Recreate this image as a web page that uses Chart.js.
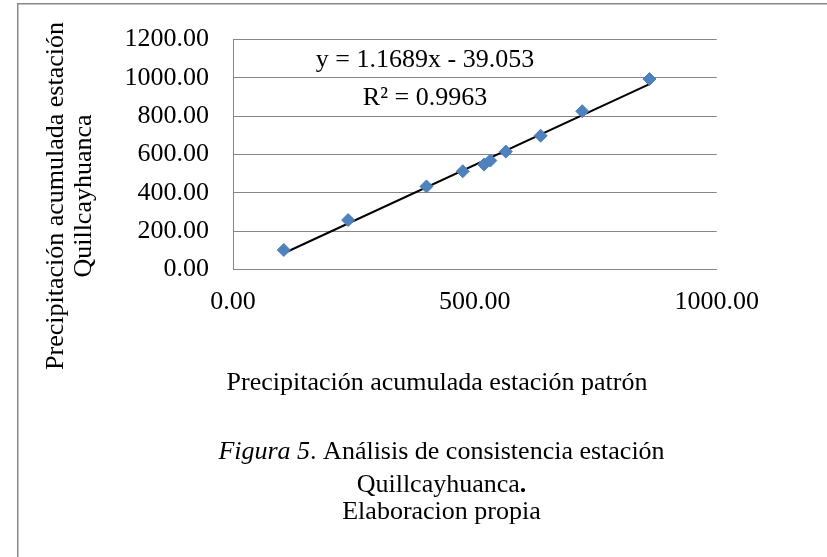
<!DOCTYPE html>
<html>
<head>
<meta charset="utf-8">
<script src="https://cdn.jsdelivr.net/npm/chart.js@4.4.1/dist/chart.umd.min.js"></script>
<style>
  html, body { margin: 0; padding: 0; background: #fff; }
  #wrap { position: relative; width: 827px; height: 557px; overflow: hidden; }
  canvas { position: absolute; left: 0; top: 0; }
</style>
</head>
<body>
<div id="wrap"><canvas id="c" width="827" height="557"></canvas></div>
<script>
// ---- data ----
const patronX = [105, 238, 400, 475, 519, 532, 564, 636, 722, 861];
const quillY  = [101, 257, 433, 512, 547, 568, 615, 698, 826, 994];
const yTicks = [0, 200, 400, 600, 800, 1000, 1200];
const xTicks = [0, 500, 1000];
const trendSlope = 1.1689;
const trendIntercept = -39.053;
const equationLines = ['y = 1.1689x - 39.053', 'R\u00B2 = 0.9963'];
const yTitleLines = ['Precipitación acumulada estación', 'Quillcayhuanca'];
const xTitle = 'Precipitación acumulada estación patrón';
const captionItalic = 'Figura 5';
const captionRest = '. Análisis de consistencia estación';
const captionLine2 = 'Quillcayhuanca';
const captionLine3 = 'Elaboracion propia';

const FONT = '"Liberation Serif", "Times New Roman", serif';

const points = patronX.map((x, i) => ({ x: x, y: quillY[i] }));
const xMin = Math.min(...patronX), xMax = Math.max(...patronX);
const trend = [xMin, xMax].map(x => ({ x: x, y: trendSlope * x + trendIntercept }));

const textPlugin = {
  id: 'texts',
  beforeDraw(chart) {
    const ctx = chart.ctx;
    ctx.save();
    ctx.strokeStyle = '#898989';
    ctx.lineWidth = 1.5;
    ctx.beginPath();
    ctx.moveTo(17.75, 557);
    ctx.lineTo(17.75, 3.75);
    ctx.lineTo(827, 3.75);
    ctx.stroke();
    ctx.restore();
  },
  afterDraw(chart) {
    const ctx = chart.ctx;
    ctx.save();
    ctx.fillStyle = '#000';
    ctx.font = '26px ' + FONT;
    ctx.textBaseline = 'alphabetic';
    ctx.textAlign = 'center';
    // equation
    ctx.fillText(equationLines[0], 425, 67);
    ctx.fillText(equationLines[1], 425, 105);
    // x title
    ctx.fillText(xTitle, 437, 390);
    // y title (rotated)
    const yc = 196;
    ctx.save();
    ctx.translate(63, yc);
    ctx.rotate(-Math.PI / 2);
    ctx.fillText(yTitleLines[0], 0, 0);
    ctx.restore();
    ctx.save();
    ctx.translate(91, yc);
    ctx.rotate(-Math.PI / 2);
    ctx.fillText(yTitleLines[1], 0, 0);
    ctx.restore();
    // caption line 1 (mixed italic)
    ctx.textAlign = 'left';
    const italFont = 'italic 26px ' + FONT;
    const regFont = '26px ' + FONT;
    ctx.font = italFont;
    const w1 = ctx.measureText(captionItalic).width;
    ctx.font = regFont;
    const w2 = ctx.measureText(captionRest).width;
    let sx = 441.5 - (w1 + w2) / 2;
    ctx.font = italFont;
    ctx.fillText(captionItalic, sx, 459);
    ctx.font = regFont;
    ctx.fillText(captionRest, sx + w1, 459);
    // caption line 2 with bold period
    const w3 = ctx.measureText(captionLine2).width;
    ctx.font = 'bold 26px ' + FONT;
    const w4 = ctx.measureText('.').width;
    sx = 441.5 - (w3 + w4) / 2;
    ctx.font = regFont;
    ctx.fillText(captionLine2, sx, 491.5);
    ctx.font = 'bold 26px ' + FONT;
    ctx.fillText('.', sx + w3, 491.5);
    // caption line 3
    ctx.font = regFont;
    ctx.textAlign = 'center';
    ctx.fillText(captionLine3, 441.5, 519);
    ctx.restore();
  }
};

new Chart(document.getElementById('c'), {
  type: 'scatter',
  data: {
    datasets: [
      {
        type: 'line',
        label: 'Tendencia',
        data: trend,
        borderColor: '#000000',
        borderWidth: 2,
        pointRadius: 0,
        fill: false,
        order: 2
      },
      {
        label: 'Datos',
        data: points,
        pointStyle: 'rectRot',
        pointRadius: 6.5,
        backgroundColor: '#4F81BD',
        borderColor: '#4A7EBB',
        borderWidth: 1,
        order: 1
      }
    ]
  },
  options: {
    responsive: false,
    animation: false,
    devicePixelRatio: 1,
    layout: { padding: { left: 0, top: 31.7, right: 110.3, bottom: 227.7 } },
    plugins: {
      legend: { display: false },
      tooltip: { enabled: false },
      title: { display: false }
    },
    scales: {
      x: {
        type: 'linear',
        min: 0,
        max: 1000,
        afterBuildTicks: s => { s.ticks = xTicks.map(v => ({ value: v })); },
        afterFit: s => { s.height = 60; },
        grid: { display: false, drawTicks: false },
        border: { display: true, color: '#868686', width: 1 },
        ticks: {
          padding: 17,
          color: '#000',
          font: { family: FONT, size: 26 },
          maxRotation: 0,
          callback: v => Number(v).toFixed(2)
        }
      },
      y: {
        type: 'linear',
        min: 0,
        max: 1200,
        afterBuildTicks: s => { s.ticks = yTicks.map(v => ({ value: v })); },
        afterFit: s => { s.width = 233; },
        grid: { display: true, color: '#868686', lineWidth: 1, drawTicks: false },
        border: { display: true, color: '#868686', width: 1 },
        ticks: {
          padding: 24,
          color: '#000',
          font: { family: FONT, size: 26 },
          callback: v => Number(v).toFixed(2)
        }
      }
    }
  },
  plugins: [textPlugin]
});
</script>
</body>
</html>
